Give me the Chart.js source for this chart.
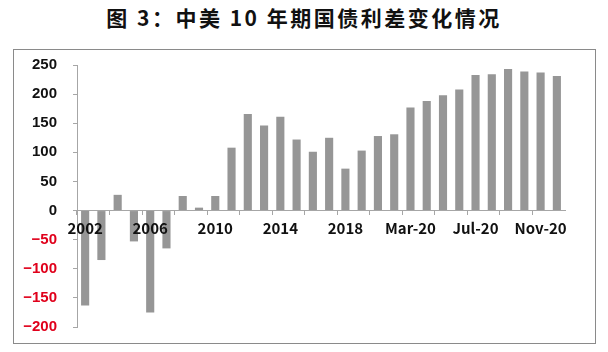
<!DOCTYPE html>
<html>
<head>
<meta charset="utf-8">
<script src="https://cdn.jsdelivr.net/npm/chart.js@4/dist/chart.umd.min.js"></script>
<style>
  body { margin: 0; background: #fff; }
  #wrap { position: relative; width: 608px; height: 352px; }
  #title {
    position: absolute; left: 0; top: 7px; width: 608px; text-align: center;
    font: bold 21px/21px "Noto Sans CJK SC", sans-serif; letter-spacing: 2.5px; color: #111;
  }
  #frame {
    position: absolute; left: 13px; top: 49px; width: 581px; height: 293px;
    border: 1.5px solid #8a8a8a;
  }
  #chart { position: absolute; left: 0; top: 0; }
</style>
</head>
<body>
<div id="wrap">
  <div id="title">图 3：中美 10 年期国债利差变化情况</div>
  <div id="frame"></div>
  <canvas id="chart" width="608" height="352"></canvas>
</div>
<script>
const labels = ["2002", "2003", "2004", "2005", "2006", "2007", "2008", "2009", "2010", "2011",
    "2012", "2013", "2014", "2015", "2016", "2017", "2018", "2019",
    "Jan-20", "Feb-20", "Mar-20", "Apr-20", "May-20", "Jun-20",
    "Jul-20", "Aug-20", "Sep-20", "Oct-20", "Nov-20", "Dec-20"];
const spread = [-163, -85, 27, -53, -175, -65, 25, 5, 25, 108,
    166, 146, 161, 122, 101, 125, 72, 103,
    128, 131, 177, 188, 198, 208,
    233, 234, 243, 239, 237, 231];
const yTicks = { min: -200, max: 250, step: 50 };

const axisGray = "#a6a6a6";

new Chart(document.getElementById("chart").getContext("2d"), {
    type: "bar",
    data: {
        labels,
        datasets: [{ label: "利差", data: spread, backgroundColor: "#969696", barPercentage: 0.5, categoryPercentage: 1 }]
    },
    options: {
        responsive: false,
        animation: false,
        layout: { padding: { left: 0, top: 65, right: 43, bottom: 24 } },
        plugins: { legend: { display: false }, tooltip: { enabled: false } },
        scales: {
            x: {
                position: { y: 0 },
                afterFit: s => { s.height = 0; },
                grid: {
                    offset: true,
                    drawOnChartArea: false,
                    tickLength: 4,
                    tickColor: c => (c.index % 2 === 0 ? axisGray : "rgba(0,0,0,0)")
                },
                border: { color: axisGray, width: 1, z: 1 },
                ticks: {
                    z: 1,
                    autoSkip: false,
                    maxRotation: 0,
                    padding: 5,
                    color: "#111",
                    font: { family: "Noto Sans CJK SC", size: 15, weight: "bold" },
                    callback: (v, i) => (i % 4 === 0 ? labels[i] : "")
                }
            },
            y: {
                min: yTicks.min,
                max: yTicks.max,
                afterFit: s => { s.width = 77; },
                grid: { drawOnChartArea: false, tickLength: 4, tickColor: axisGray },
                border: { color: axisGray, width: 1 },
                ticks: {
                    stepSize: yTicks.step,
                    padding: 16,
                    font: { family: "Liberation Sans", size: 15, weight: "bold" },
                    color: c => (c.tick.value < 0 ? "#e0001b" : "#111"),
                    callback: v => (v < 0 ? "\u2212" + Math.abs(v) : v)
                }
            }
        }
    }
});
</script>
</body>
</html>
